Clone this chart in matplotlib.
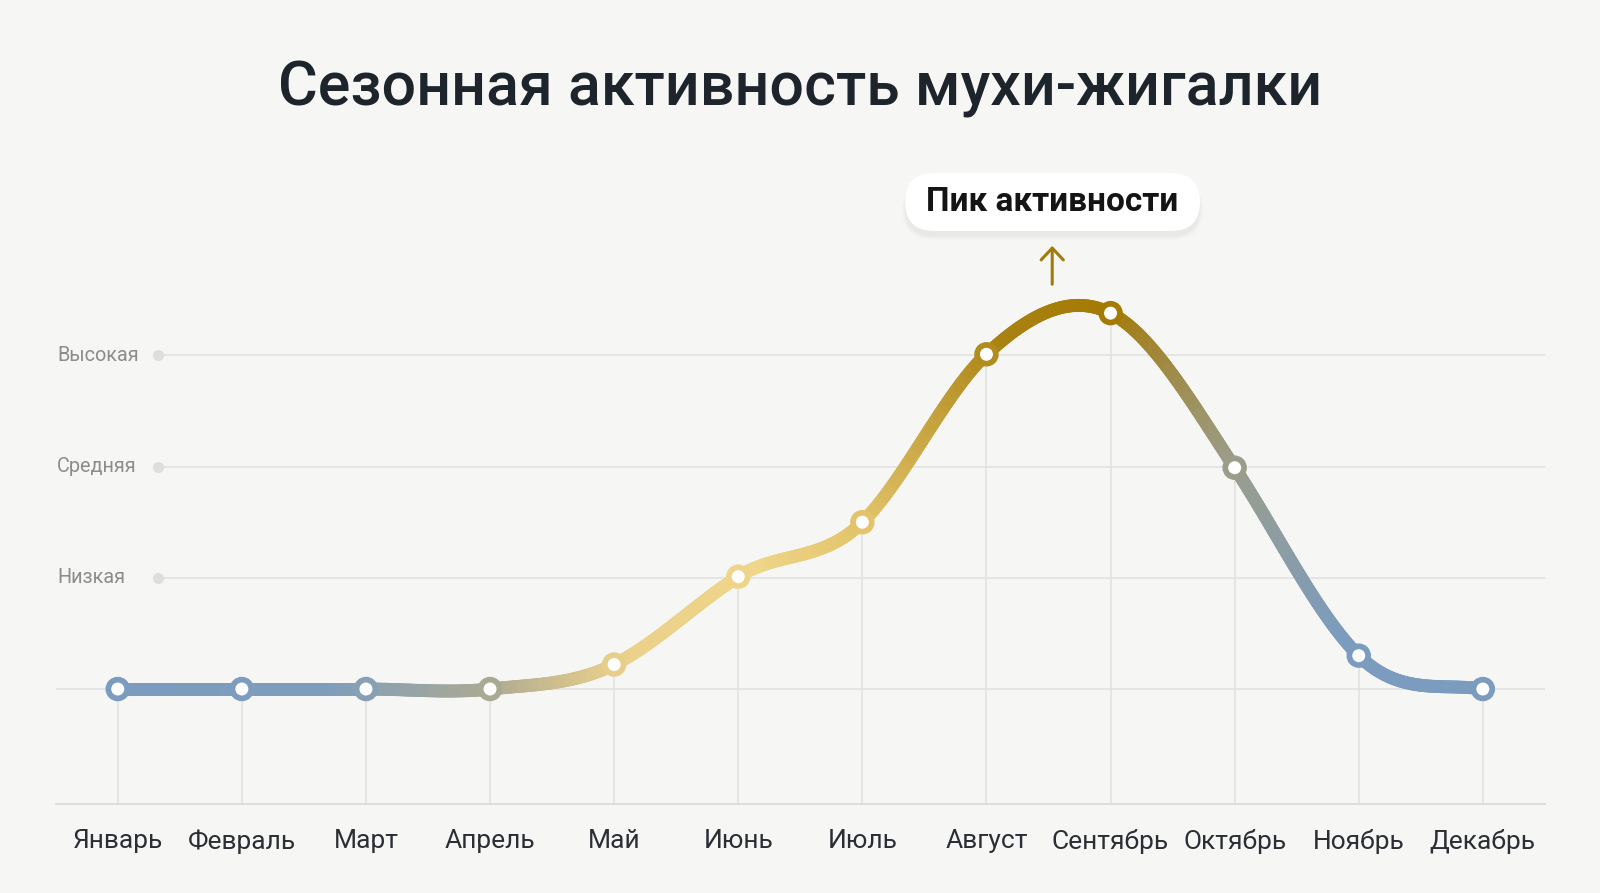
import numpy as np
import matplotlib
matplotlib.use("Agg")
import matplotlib.pyplot as plt
from matplotlib.collections import LineCollection
from matplotlib.colors import LinearSegmentedColormap
from matplotlib.patches import FancyBboxPatch

months = ["Январь", "Февраль", "Март", "Апрель", "Май", "Июнь",
          "Июль", "Август", "Сентябрь", "Октябрь", "Ноябрь", "Декабрь"]
activity = [0, 0, 0, 0, 0.22, 1.01, 1.50, 3.01, 3.38, 1.99, 0.30, 0]
level_names = ["Низкая", "Средняя", "Высокая"]
level_values = [1, 2, 3]
title = "Сезонная активность мухи-жигалки"
peak_label = "Пик активности"

plt.rcParams['font.family'] = ['Roboto', 'DejaVu Sans']
bg = "#f6f6f4"

# gradient along x (fraction of Jan..Dec)
grad = LinearSegmentedColormap.from_list("season", [
    (0.0, "#7b9cbf"), (0.15, "#7d9dbd"), (0.27, "#aaa994"), (0.37, "#ead08a"),
    (0.47, "#efd68a"), (0.55, "#e2c36a"), (0.65, "#a98212"), (0.73, "#a47a05"),
    (0.82, "#9b9d8c"), (0.9, "#7b9cbf"), (1.0, "#7b9cbf")])

fig = plt.figure(figsize=(16, 8.93), dpi=100, facecolor=bg)
ymin, ymax = -1.034, 4.5
ax = fig.add_axes([55.7 / 1600, (893 - 804) / 893, 1489.2 / 1600, (804 - 188.6) / 893])
ax.set_facecolor(bg)
ax.set_xlim(-0.5, 11.5)
ax.set_ylim(ymin, ymax)

x = np.arange(len(months))
y = np.array(activity, dtype=float)

# catmull-rom spline, slightly stronger tangents
k = 0.55
pad = np.concatenate([[y[0]], y, [y[-1]]])
tang = k * (pad[2:] - pad[:-2])
xs, ys = [], []
for i in range(len(y) - 1):
    t = np.linspace(0, 1, 60, endpoint=False)
    h00 = 2 * t**3 - 3 * t**2 + 1
    h10 = t**3 - 2 * t**2 + t
    h01 = -2 * t**3 + 3 * t**2
    h11 = t**3 - t**2
    xs.append(i + t)
    ys.append(h00 * y[i] + h10 * tang[i] + h01 * y[i + 1] + h11 * tang[i + 1])
xs = np.concatenate(xs + [[x[-1]]])
ys = np.concatenate(ys + [[y[-1]]])

# grid
for v in level_values:
    ax.plot([0.324, 11.5], [v, v], color="#e2e2e2", lw=1.2, zorder=1, solid_capstyle="butt")
    ax.plot([0.324], [v], "o", ms=7, color="#dedede", zorder=2)
ax.plot([-0.5, 11.5], [0, 0], color="#e2e2e2", lw=1.2, zorder=1)
ax.vlines(x, ymin, y, color="#e2e2e2", lw=1.2, zorder=1)

for s in ["top", "right", "left"]:
    ax.spines[s].set_visible(False)
ax.spines["bottom"].set_color("#dddddd")
ax.spines["bottom"].set_linewidth(1.4)
ax.set_yticks([])
ax.set_xticks(x)
ax.set_xticklabels(months, fontsize=19, color="#2b2f35")
ax.tick_params(axis="x", length=0, pad=18)

for name, v in zip(level_names, level_values):
    ax.text(-0.49, v, name, fontsize=14.3, color="#8c8c8c", ha="left", va="center")

# gradient line
pts = np.column_stack([xs, ys]).reshape(-1, 1, 2)
segs = np.concatenate([pts[:-1], pts[1:]], axis=1)
mid = (xs[:-1] + xs[1:]) / 2 / 11
lc = LineCollection(segs, colors=grad(mid), linewidths=9.3, capstyle="round",
                    joinstyle="round", zorder=3)
ax.add_collection(lc)

ax.scatter(x, y, s=13.5**2, facecolors="white", edgecolors=grad(x / 11),
           linewidths=4.1, zorder=4)

# peak annotation: rounded white pill with soft shadow
lx, ly = 7.53, 4.38
bx0, bx1, by0, by1 = 6.344, 8.721, 4.119, 4.640
rx = 0.2337
asp = 0.261 / rx
for j, a in enumerate([0.018, 0.014, 0.010, 0.007]):
    sh = FancyBboxPatch((bx0 - 0.01 * j, by0 - 0.05 - 0.012 * j),
                        bx1 - bx0 + 0.02 * j, by1 - by0 + 0.012 * j,
                        boxstyle="round,pad=0,rounding_size=%f" % (rx + 0.01 * j),
                        mutation_aspect=asp, fc=(0, 0, 0, a), ec="none",
                        clip_on=False, zorder=5)
    ax.add_patch(sh)
box = FancyBboxPatch((bx0, by0), bx1 - bx0, by1 - by0,
                     boxstyle="round,pad=0,rounding_size=%f" % rx,
                     mutation_aspect=asp, fc="white", ec="none", clip_on=False, zorder=6)
ax.add_patch(box)
ax.text(lx, ly, peak_label, fontsize=24, fontweight="bold", ha="center",
        va="center", color="#141414", zorder=7, clip_on=False)
ax.annotate("", xy=(lx, 4.01), xytext=(lx, 3.615),
            arrowprops=dict(arrowstyle="->,head_length=0.85,head_width=0.8",
                            color="#a07c10", lw=2.2), zorder=6)

fig.text(0.5, (893 - 105) / 893, title, fontsize=43.8, fontweight="medium",
         color="#1e242c", ha="center", va="baseline")

fig.savefig("out.png", dpi=100, facecolor=bg)
